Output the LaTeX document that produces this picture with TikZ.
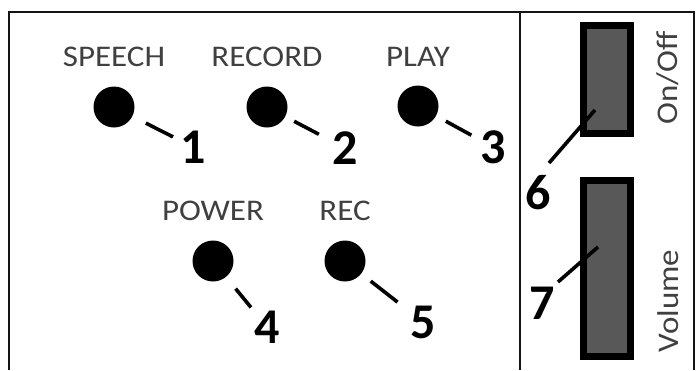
\documentclass[tikz,border=0pt]{standalone}
\usepackage{fontspec}
\setmainfont{Carlito}
\newfontfamily\widefont[FakeStretch=1.1]{Carlito}
\usetikzlibrary{positioning}
\definecolor{ink}{RGB}{20,20,20}
\definecolor{label}{RGB}{64,64,64}
\definecolor{slider}{RGB}{88,88,88}
\tikzset{
  frame/.style={draw=ink,line width=1.6pt},
  button/.style={circle,fill=black,minimum size=41pt,inner sep=0pt},
  lbl/.style={text=label,inner sep=0pt,font=\widefont\fontsize{30}{30}\selectfont},
  num/.style={inner sep=0pt,font=\fontsize{50}{50}\selectfont\bfseries},
  lead/.style={draw=black,line width=3.6pt},
  switchbox/.style={draw=black,line width=7pt,fill=slider,minimum width=47pt,inner sep=0pt},
  side/.style={text=label,inner sep=0pt,rotate=90,font=\widefont\fontsize{30}{30}\selectfont},
}

\begin{document}
\begin{tikzpicture}[x=1pt,y=-1pt]
  \useasboundingbox (0,0) rectangle (699,370);
  \draw[frame] (9,370) |- (694,12) -- (694,370);
  \draw[frame] (520,12) -- (520,370);
  % buttons on the left panel
  \foreach \i/\bx/\by/\t/\nx/\ny/\sa/\sb in {
      1/114/107/SPEECH/193/147/15/8,
      2/267/107/RECORD/345/148/10/15,
      3/418/106/PLAY/493/147/11/10,
      4/213/261/POWER/267/327/15/5,
      5/345/261/REC/423/322/12/16}
  {
    \node[button] (b\i) at (\bx,\by) {};
    \node[lbl,above=19pt of b\i] (l\i) {\t};
    \node[num] (n\i) at (\nx,\ny) {\i};
    \draw[lead,shorten <=\sa pt,shorten >=\sb pt] (b\i) -- (n\i);
  }
  % sliders on the right panel
  \node[switchbox,minimum height=108pt] (s6) at (607,79.5) {};
  \node[switchbox,minimum height=176pt] (s7) at (607,268.5) {};
  \node[side] (t6) at (668,78) {On/Off};
  \node[side] (t7) at (668,301) {Volume};
  \node[num] (n6) at (538,193) {6};
  \node[num] (n7) at (542,303) {7};
  \coordinate (p6) at (595,110);
  \coordinate (p7) at (598,247);
  \draw[lead] ([shift={(11,-30)}]n6.center) -- (p6);
  \draw[lead] ([shift={(16,-21)}]n7.center) -- (p7);
\end{tikzpicture}
\end{document}
